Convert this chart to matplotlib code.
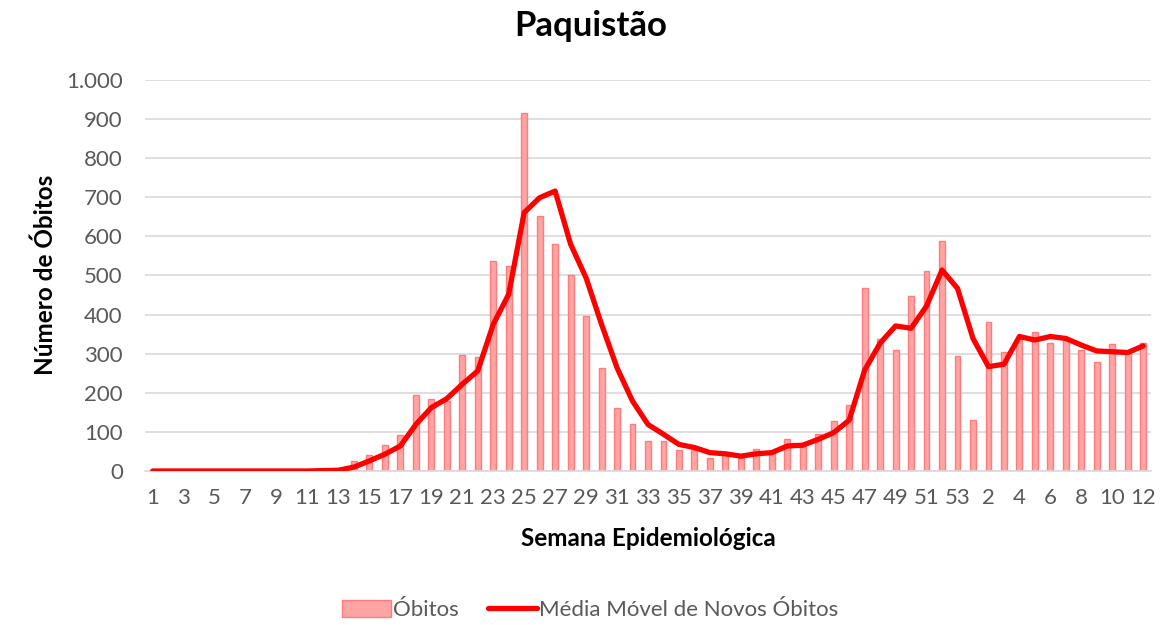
import matplotlib.pyplot as plt
import numpy as np

plt.rcParams['font.family'] = ['Lato', 'DejaVu Sans']

# semanas epidemiológicas: 1..53 de 2020 e 1..12 de 2021
semanas = [str(s) for s in range(1, 54)] + [str(s) for s in range(1, 13)]

obitos = [0, 0, 0, 0, 0, 0, 0, 0, 0, 0, 0, 0, 4,
          26, 41, 66, 92, 194, 185, 179, 297, 292, 537, 525, 916,
          651, 581, 502, 397, 264, 162, 121, 78, 77, 53, 53, 34,
          40, 34, 55, 45, 81, 62, 94, 129, 170, 469, 337, 309,
          448, 511, 589, 295,
          130, 382, 305, 337, 356, 327, 335, 309, 278, 325, 301, 328]

media_movel = [0, 0, 0, 0, 0, 0, 0, 0, 0, 0, 0, 1, 2,
               10, 26, 43, 64, 119, 162, 185, 222, 256, 375, 452, 661,
               699, 716, 580, 494, 375, 264, 179, 119, 94, 68, 60, 47,
               44, 38, 44, 47, 64, 66, 81, 98, 130, 258, 327, 371,
               365, 422, 514, 467,
               339, 267, 273, 344, 335, 344, 339, 322, 307, 305, 303, 320]

x = np.arange(len(semanas))

fig = plt.figure(figsize=(11.62, 6.25), dpi=100)
ax = fig.add_axes([0.1248, 0.2464, 0.8657, 0.6256])

barras = ax.bar(x, obitos, width=0.38, color='#FFA3A3', edgecolor='#FF7C7C',
                linewidth=1, label='Óbitos', zorder=2)
linha, = ax.plot(x, media_movel, color='#FF0000', linewidth=3.8,
                 solid_capstyle='round', solid_joinstyle='round',
                 label='Média Móvel de Novos Óbitos', zorder=3)

ax.set_xlim(-0.5, len(semanas) - 0.5)
ax.set_ylim(0, 1000)
ax.set_yticks(np.arange(0, 1001, 100))
ax.set_yticklabels(['0', '100', '200', '300', '400', '500', '600', '700',
                    '800', '900', '1.000'])
ax.set_xticks(x[::2])
ax.set_xticklabels(semanas[::2])
ax.tick_params(axis='both', length=0, labelsize=16, colors='#595959')
ax.tick_params(axis='x', pad=12)
ax.tick_params(axis='y', pad=16)

ax.grid(axis='y', color='#D9D9D9', linewidth=1.2, zorder=0)
ax.set_axisbelow(True)
for side in ['top', 'right', 'left']:
    ax.spines[side].set_visible(False)
ax.spines['bottom'].set_color('#D9D9D9')
ax.spines['bottom'].set_linewidth(1.2)

fig.text(0.508, 0.958, 'Paquistão', ha='center', va='center',
         fontsize=25, fontweight='bold', color='black')
ax.set_xlabel('Semana Epidemiológica', fontsize=17.5, fontweight='bold',
              color='black', labelpad=14)
fig.text(0.039, 0.56, 'Número de Óbitos', rotation=90, ha='center',
         va='center', fontsize=17.5, fontweight='bold', color='black')

leg = fig.legend([barras, linha], ['Óbitos', 'Média Móvel de Novos Óbitos'],
                 loc='center', bbox_to_anchor=(0.508, 0.024), ncol=2,
                 frameon=False, fontsize=16, handlelength=2.2,
                 handleheight=0.8, columnspacing=1.3, handletextpad=0.1)
for t in leg.get_texts():
    t.set_color('#595959')

fig.savefig('out.png', dpi=100)
